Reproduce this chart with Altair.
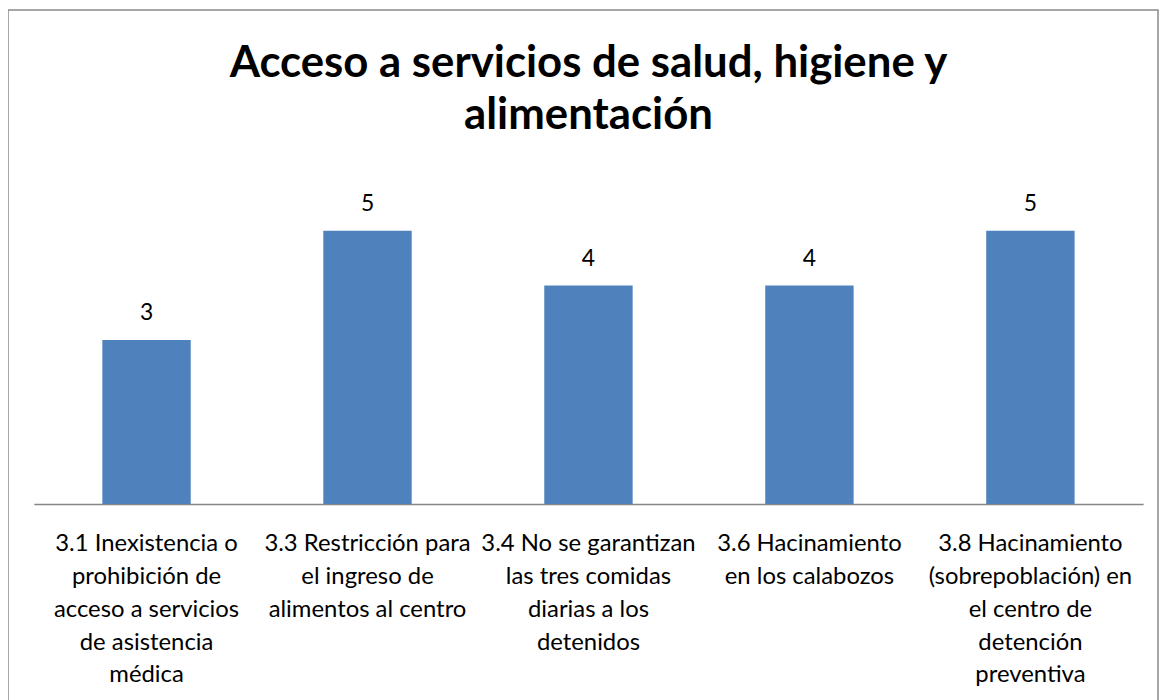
import altair as alt
import pandas as pd

categories = [
    "3.1 Inexistencia o|prohibición de|acceso a servicios|de asistencia|médica",
    "3.3 Restricción para|el ingreso de|alimentos al centro",
    "3.4 No se garantizan|las tres comidas|diarias a los|detenidos",
    "3.6 Hacinamiento|en los calabozos",
    "3.8  Hacinamiento|(sobrepoblación) en|el centro de|detención|preventiva",
]
values = [3, 5, 4, 4, 5]

df = pd.DataFrame({"cat": categories, "val": values})
FONT = "Lato"

base = alt.Chart(df).encode(
    x=alt.X("cat:N", sort=categories, title=None,
            scale=alt.Scale(paddingInner=0.6, paddingOuter=0.31),
            axis=alt.Axis(labelExpr="split(datum.label, '|')", labelAngle=0,
                          labelFontSize=24, labelFont=FONT, labelColor="#000000",
                          labelLineHeight=33, labelPadding=28, labelLimit=400,
                          ticks=False, domainColor="#868686", domainWidth=1.5,
                          labelBaseline="top")),
    y=alt.Y("val:Q", scale=alt.Scale(domain=[0, 6]), axis=None),
)

bars = base.mark_bar(color="#4F81BD")
text = base.mark_text(dy=-15, baseline="bottom", fontSize=23, font=FONT, color="#000000").encode(
    text="val:Q")

border = alt.Chart(alt.Data(values=[{}])).mark_rect(
    filled=False, stroke="#898989", strokeWidth=1.5
).encode(x=alt.value(-26), x2=alt.value(1131), y=alt.value(-167), y2=alt.value(700))

chart = alt.layer(border, bars, text).properties(
    width=1116, height=330,
    title=alt.TitleParams(["Acceso a servicios de salud, higiene y", "alimentación"],
                          fontSize=44, font=FONT, fontWeight="bold", color="#000000",
                          lineHeight=52, anchor="middle", offset=0, dy=129),
    padding={"left": 26, "top": 167, "right": 16, "bottom": 195},
    autosize=alt.AutoSizeParams(type="none"),
).configure(background="white").configure_view(stroke=None)

chart.save("out.html", embed_options={"renderer": "svg", "actions": False})
